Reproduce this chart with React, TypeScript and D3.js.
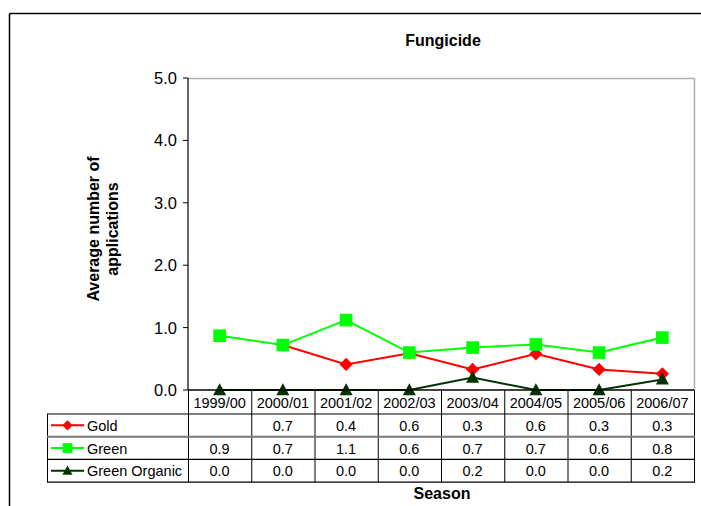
import React from "react";
import * as d3 from "d3";

const seasons = ["1999/00", "2000/01", "2001/02", "2002/03", "2003/04", "2004/05", "2005/06", "2006/07"];
const gold: (number | null)[] = [null, 0.72, 0.41, 0.59, 0.33, 0.58, 0.33, 0.26];
const green: (number | null)[] = [0.87, 0.72, 1.12, 0.6, 0.68, 0.73, 0.6, 0.84];
const greenOrganic: (number | null)[] = [0.0, 0.0, 0.0, 0.0, 0.2, 0.0, 0.0, 0.17];
const yTicks = [0, 1, 2, 3, 4, 5];

const seriesNames = ["Gold", "Green", "Green Organic"];
const seriesColors = ["#ff0000", "#00ff00", "#003300"];
const seriesData = [gold, green, greenOrganic];

// marker shapes: square-ish diamond, square, and a triangle sitting slightly low
const diamond = {
  draw(ctx: any, size: number) {
    const r = Math.sqrt(size / 2);
    ctx.moveTo(0, -r);
    ctx.lineTo(r, 0);
    ctx.lineTo(0, r);
    ctx.lineTo(-r, 0);
    ctx.closePath();
  },
};
const square = {
  draw(ctx: any, size: number) {
    const r = Math.sqrt(size) / 2;
    ctx.rect(-r, -r, 2 * r, 2 * r);
  },
};
const triangle = {
  draw(ctx: any, size: number) {
    const r = Math.sqrt(size) / 2;
    ctx.moveTo(0, -r * 1.05);
    ctx.lineTo(r, r * 0.8);
    ctx.lineTo(-r, r * 0.8);
    ctx.closePath();
  },
};
const seriesShapes = [diamond, square, triangle];
const seriesSizes = [88, 160, 170];

const W = 701;
const H = 506;
const left = 188;
const right = 694;
const top = 78;
const bottom = 390;
const font = "'Liberation Sans', Arial, sans-serif";

export default function App() {
  const x = d3.scaleBand<string>().domain(seasons).range([left, right]).padding(0);
  const y = d3.scaleLinear().domain([0, 5]).range([bottom, top]);
  const cx = (i: number) => (x(seasons[i]) as number) + x.bandwidth() / 2;

  const line = d3
    .line<number | null>()
    .defined((d) => d !== null)
    .x((_, i) => cx(i))
    .y((d) => y(d as number));

  const rowTop = 414;
  const rowH = 22.7;
  const tableLeft = 47;

  return (
    <svg
      width={W}
      height={H}
      style={{ position: "absolute", left: 0, top: 0, background: "#fff" }}
      fontFamily={font}
    >
      {/* outer frame */}
      <line x1={9.5} y1={13.5} x2={W} y2={13.5} stroke="#000" strokeWidth={1.5} />
      <line x1={9.5} y1={13.5} x2={9.5} y2={H} stroke="#000" strokeWidth={1.5} />

      <text x={443} y={46} textAnchor="middle" fontSize={16} fontWeight="bold">
        Fungicide
      </text>

      {/* plot area frame */}
      <line x1={left} y1={top + 0.5} x2={right} y2={top + 0.5} stroke="#b0b0b0" strokeWidth={1.5} />
      <line x1={right + 0.5} y1={top} x2={right + 0.5} y2={bottom} stroke="#b0b0b0" strokeWidth={1.5} />

      {/* y axis */}
      <line x1={left} y1={top} x2={left} y2={bottom} stroke="#000" strokeWidth={1.2} />
      {yTicks.map((t) => (
        <g key={t}>
          <line x1={left - 5} x2={left} y1={y(t)} y2={y(t)} stroke="#000" />
          <text x={left - 11} y={y(t) + 6} textAnchor="end" fontSize={16.5}>
            {t.toFixed(1)}
          </text>
        </g>
      ))}
      <text transform="translate(99,229) rotate(-90)" textAnchor="middle" fontSize={16} fontWeight="bold">
        Average number of
      </text>
      <text transform="translate(117.5,229) rotate(-90)" textAnchor="middle" fontSize={16} fontWeight="bold">
        applications
      </text>

      {/* series lines */}
      {seriesData.map((data, s) => (
        <path key={s} d={line(data) || ""} fill="none" stroke={seriesColors[s]} strokeWidth={2} />
      ))}

      {/* series markers */}
      {seriesData.map((data, s) =>
        data.map((v, i) =>
          v === null ? null : (
            <path
              key={`${s}-${i}`}
              transform={`translate(${cx(i)},${y(v)})`}
              d={d3.symbol().type(seriesShapes[s] as any).size(seriesSizes[s])() || ""}
              fill={seriesColors[s]}
            />
          )
        )
      )}

      {/* x axis line */}
      <line x1={left} x2={right} y1={bottom} y2={bottom} stroke="#000" strokeWidth={1.5} />

      {/* data table: header row */}
      {seasons.map((season, i) => (
        <text key={season} x={cx(i)} y={rowTop - 6} textAnchor="middle" fontSize={14.5}>
          {season}
        </text>
      ))}
      {seasons.map((season) => (
        <line
          key={`v-${season}`}
          x1={(x(season) as number) + 0.5}
          x2={(x(season) as number) + 0.5}
          y1={bottom}
          y2={rowTop + rowH * 3}
          stroke="#000"
        />
      ))}
      <line x1={right + 0.5} x2={right + 0.5} y1={bottom} y2={rowTop + rowH * 3} stroke="#000" />
      <line x1={tableLeft + 0.5} x2={tableLeft + 0.5} y1={rowTop} y2={rowTop + rowH * 3} stroke="#000" />
      {[0, 1, 2, 3].map((r) => (
        <line
          key={`h-${r}`}
          x1={tableLeft}
          x2={right + 1}
          y1={rowTop + r * rowH}
          y2={rowTop + r * rowH}
          stroke={r === 1 ? "#777" : "#000"}
          strokeWidth={r === 1 ? 2 : 1.2}
        />
      ))}

      {/* data table: series rows */}
      {seriesData.map((data, s) => {
        const ry = rowTop + s * rowH + rowH / 2;
        return (
          <g key={`row-${s}`}>
            <line x1={51} x2={84} y1={ry} y2={ry} stroke={seriesColors[s]} strokeWidth={2} />
            <path
              transform={`translate(67.5,${ry})`}
              d={d3.symbol().type(seriesShapes[s] as any).size(seriesSizes[s] * 0.6)() || ""}
              fill={seriesColors[s]}
            />
            <text x={87} y={ry + 5.5} fontSize={14.5}>
              {seriesNames[s]}
            </text>
            {data.map((v, i) =>
              v === null ? null : (
                <text key={i} x={cx(i)} y={ry + 5.5} textAnchor="middle" fontSize={14.5}>
                  {v.toFixed(1)}
                </text>
              )
            )}
          </g>
        );
      })}

      <text x={442} y={499} textAnchor="middle" fontSize={16} fontWeight="bold">
        Season
      </text>
    </svg>
  );
}
